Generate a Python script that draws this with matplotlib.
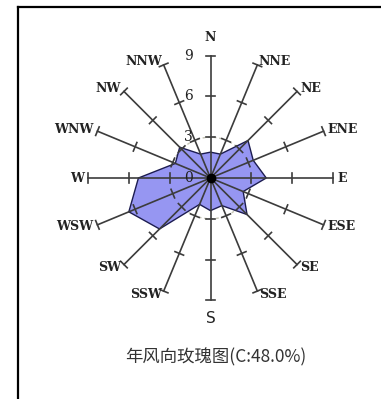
import numpy as np
import matplotlib.pyplot as plt
from matplotlib.lines import Line2D
from matplotlib.patches import Circle

# wind rose data (frequency %, clockwise from N)
directions = ['N', 'NNE', 'NE', 'ENE', 'E', 'ESE', 'SE', 'SSE',
              'S', 'SSW', 'SW', 'WSW', 'W', 'WNW', 'NW', 'NNW']
freq = [1.9, 1.9, 3.9, 3.4, 4.1, 2.6, 3.8, 2.2,
        2.4, 2.1, 5.3, 6.5, 5.3, 2.8, 3.2, 1.9]
ring_values = [0, 3, 6, 9]
ring_labels = ['0', '3', '6', '9']
calm = 48.0
title = '年风向玫瑰图(C:%.1f%%)' % calm

W, H = 381, 399
scale = 13.6          # px per unit
cx, cy = 210.5, 178   # centre in px

fig = plt.figure(figsize=(W / 100, H / 100), dpi=100)
ax = fig.add_axes([0, 0, 1, 1])
ax.set_xlim(-cx / scale, (W - cx) / scale)
ax.set_ylim(-(H - cy) / scale, cy / scale)
ax.set_aspect('equal')
ax.axis('off')

theta = np.deg2rad(np.arange(len(directions)) * 22.5)
ux, uy = np.sin(theta), np.cos(theta)
f = np.array(freq)
rmax = ring_values[-1]

# dashed ring at 3
ax.add_patch(Circle((0, 0), ring_values[1], fill=False, ls=(0, (2, 2)),
                    ec='#c4c4b4', lw=1, zorder=1))

# rose polygon
ax.fill(ux * f, uy * f, facecolor='#9696f2', edgecolor='#1c1c50', lw=1.0, zorder=2)

# spokes and ticks
for i in range(len(directions)):
    ax.plot([0, rmax * ux[i]], [0, rmax * uy[i]], color='#3c3c3c', lw=1.2, zorder=3)
    px, py = uy[i], -ux[i]
    for r in ring_values[1:]:
        h = 0.34
        ax.plot([r * ux[i] - h * px, r * ux[i] + h * px],
                [r * uy[i] - h * py, r * uy[i] + h * py],
                color='#3c3c3c', lw=1.2, zorder=3)

ax.plot(0, 0, 'o', ms=6, color='black', zorder=5)

# direction labels
for i, d in enumerate(directions):
    if abs(ux[i]) < 0.1:
        r = 10.3
        ax.text(r * ux[i], r * uy[i], d, ha='center', va='center',
                fontsize=9 if d == 'N' else 11,
                family='DejaVu Serif' if d == 'N' else 'DejaVu Sans',
                fontweight='bold' if d == 'N' else 'normal', color='#222222')
    else:
        r = 9.3
        ha = 'left' if ux[i] > 0 else 'right'
        ax.text(r * ux[i], r * uy[i], d, ha=ha, va='center', fontsize=9,
                family='DejaVu Serif', fontweight='bold', color='#222222')

# radius labels
for v, lab in zip(ring_values, ring_labels):
    ax.text(-1.65, v, lab, ha='center', va='center', fontsize=10,
            family='DejaVu Serif', color='#222222', zorder=4)

ax.text(0.39, -13.2, title, ha='center', va='center', fontsize=12.5,
        family=['Noto Sans CJK SC', 'DejaVu Sans'], color='#333333')

# frame
fig.add_artist(Line2D([18 / W, 18 / W], [0, 1 - 7 / H], transform=fig.transFigure,
                      color='black', lw=1.6))
fig.add_artist(Line2D([18 / W, 1], [1 - 7 / H, 1 - 7 / H], transform=fig.transFigure,
                      color='black', lw=1.6))

fig.savefig('out.png', dpi=100)
